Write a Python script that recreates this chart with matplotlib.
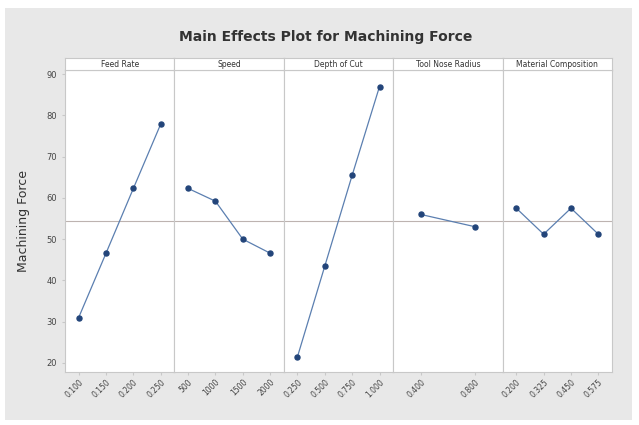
import matplotlib
matplotlib.use("Agg")
import matplotlib.pyplot as plt
from matplotlib.patches import Rectangle

# factor names and their levels
factors = ["Feed Rate", "Speed", "Depth of Cut", "Tool Nose Radius", "Material Composition"]
feed_levels = ["0.100", "0.150", "0.200", "0.250"]
speed_levels = ["500", "1000", "1500", "2000"]
depth_levels = ["0.250", "0.500", "0.750", "1.000"]
nose_levels = ["0.400", "0.800"]
material_levels = ["0.200", "0.325", "0.450", "0.575"]

# mean machining force at each level
feed_means = [31.0, 46.6, 62.3, 77.9]
speed_means = [62.3, 59.2, 50.0, 46.6]
depth_means = [21.5, 43.5, 65.5, 87.0]
nose_means = [56.0, 53.0]
material_means = [57.5, 51.2, 57.5, 51.2]

grand_mean = 54.4

levels = [feed_levels, speed_levels, depth_levels, nose_levels, material_levels]
means = [feed_means, speed_means, depth_means, nose_means, material_means]

plt.rcParams["font.family"] = ["DejaVu Sans"]
edge = "#c8c8c8"

fig = plt.figure(figsize=(6.39, 4.25), dpi=100, facecolor="white")
fig.patches.append(Rectangle((5 / 639, 5 / 425), 627 / 639, 412 / 425,
                             transform=fig.transFigure, facecolor="#e8e8e8",
                             edgecolor="none", zorder=-10))

left, right = 65 / 639, 612 / 639
bottom, top = 1 - 372 / 425, 1 - 70 / 425
strip_h = 12 / 425
w = (right - left) / 5

axes = []
for i in range(5):
    ax = fig.add_axes([left + i * w, bottom, w, top - bottom])
    x = list(range(len(levels[i])))
    ax.axhline(grand_mean, color="#bdb3b0", lw=0.8, zorder=1)
    ax.plot(x, means[i], color="#5b7fb0", lw=0.9, zorder=2)
    ax.plot(x, means[i], "o", color="#23457a", ms=3.6, zorder=3)
    ax.set_xlim(-0.5, len(x) - 0.5)
    ax.set_ylim(17.8, 91)
    ax.set_xticks(x)
    ax.set_xticklabels(levels[i], rotation=45, ha="right", rotation_mode="anchor",
                       fontsize=5.5, color="#444444")
    ax.tick_params(axis="x", length=2, color=edge, pad=2)
    for s in ax.spines.values():
        s.set_color(edge)
        s.set_linewidth(0.8)
    if i == 0:
        ax.set_yticks(range(20, 91, 10))
        ax.tick_params(axis="y", labelsize=6, length=2, color=edge, labelcolor="#444444")
        ax.set_ylabel("Machining Force", fontsize=9, color="#333333", labelpad=12)
    else:
        ax.set_yticks([])
    ax.set_facecolor("white")
    axes.append(ax)

    # strip with the factor name above each panel
    sax = fig.add_axes([left + i * w, top, w, strip_h])
    sax.set_facecolor("white")
    sax.set_xticks([])
    sax.set_yticks([])
    for s in sax.spines.values():
        s.set_color(edge)
        s.set_linewidth(0.8)
    sax.text(0.5, 0.45, factors[i], ha="center", va="center", fontsize=5.5,
             color="#333333", transform=sax.transAxes)

fig.text(0.51, 1 - 37 / 425, "Main Effects Plot for Machining Force", ha="center",
         va="center", fontsize=10, fontweight="bold", color="#333333")

fig.savefig("out.png", dpi=100, facecolor=fig.get_facecolor())
